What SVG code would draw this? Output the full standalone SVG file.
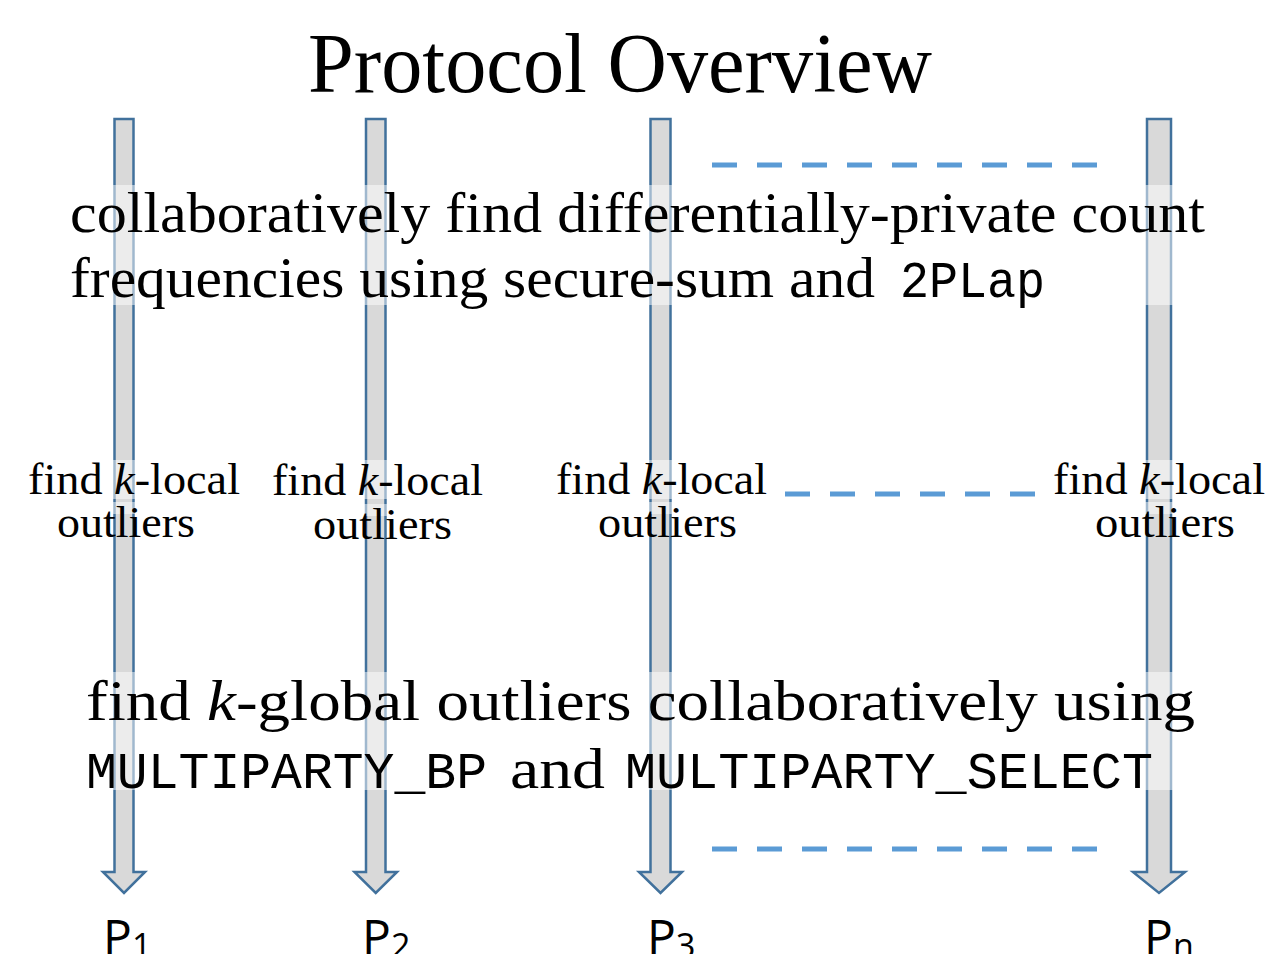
<svg xmlns="http://www.w3.org/2000/svg" width="1273" height="954" viewBox="0 0 1273 954">
<style>
.arrow{fill:#d9d9d9;stroke:#41719c;stroke-width:2.5;stroke-linejoin:miter}
.band{fill:#ffffff;fill-opacity:0.5}
.dash{stroke:#5b9bd5;stroke-width:5;stroke-dasharray:25 20;fill:none}
.serif{font-family:"Liberation Serif","DejaVu Serif",serif;fill:#000}
.mono{font-family:"Liberation Mono","DejaVu Sans Mono",monospace;fill:#000}
.sans{font-family:"Open Sans","Liberation Sans",sans-serif;fill:#000}
.big{font-size:58px}
.mid{font-size:45px}
</style>
<rect width="1273" height="954" fill="#ffffff"/>
<g id="title"><text class="serif" x="308" y="92" font-size="84" textLength="624" lengthAdjust="spacingAndGlyphs">Protocol Overview</text></g>
<g id="party1">
<path class="arrow" d="M114.5 119 H133.5 V872 H145 L124 893 L103 872 H114.5 Z"/>
<text class="sans" x="103" y="954" font-size="48">P<tspan font-size="34" dy="4">1</tspan></text>
</g>
<g id="party2">
<path class="arrow" d="M366 119 H385.5 V872 H397 L375.75 893 L354.5 872 H366 Z"/>
<text class="sans" x="362" y="954" font-size="48">P<tspan font-size="34" dy="4">2</tspan></text>
</g>
<g id="party3">
<path class="arrow" d="M650.5 119 H670.5 V872 H682 L660.5 893 L639 872 H650.5 Z"/>
<text class="sans" x="647" y="954" font-size="48">P<tspan font-size="34" dy="4">3</tspan></text>
</g>
<g id="partyn">
<path class="arrow" d="M1147 119 H1171 V872 H1185 L1159 893 L1133 872 H1147 Z"/>
<text class="sans" x="1144" y="954" font-size="48">P<tspan font-size="34" dy="4">n</tspan></text>
</g>
<g id="connectors">
<line class="dash" x1="712" y1="165" x2="1097" y2="165"/>
<line class="dash" x1="785" y1="494" x2="1035" y2="494"/>
<line class="dash" x1="712" y1="849" x2="1097" y2="849"/>
</g>
<g id="step-count">
<rect class="band" x="70" y="185" width="1135" height="120"/>
<text class="serif big" x="70" y="232" textLength="1135" lengthAdjust="spacingAndGlyphs">collaboratively find differentially-private count</text>
<text class="serif big" x="70" y="297" textLength="805" lengthAdjust="spacingAndGlyphs">frequencies using secure-sum and</text>
<text class="mono" x="900" y="297" font-size="52" textLength="145" lengthAdjust="spacingAndGlyphs">2PLap</text>
</g>
<g id="local1">
<rect class="band" x="28" y="460" width="212" height="39"/>
<rect class="band" x="57" y="502" width="138" height="12"/>
<text class="serif mid" x="28" y="494" textLength="212" lengthAdjust="spacingAndGlyphs">find <tspan font-style="italic">k</tspan>-local</text>
<text class="serif mid" x="57" y="537" textLength="138" lengthAdjust="spacingAndGlyphs">outliers</text>
</g>
<g id="local2">
<rect class="band" x="272" y="460" width="211" height="39"/>
<rect class="band" x="313" y="504" width="139" height="12"/>
<text class="serif mid" x="272" y="495" textLength="211" lengthAdjust="spacingAndGlyphs">find <tspan font-style="italic">k</tspan>-local</text>
<text class="serif mid" x="313" y="539" textLength="139" lengthAdjust="spacingAndGlyphs">outliers</text>
</g>
<g id="local3">
<rect class="band" x="556" y="460" width="211" height="39"/>
<rect class="band" x="598" y="502" width="139" height="12"/>
<text class="serif mid" x="556" y="494" textLength="211" lengthAdjust="spacingAndGlyphs">find <tspan font-style="italic">k</tspan>-local</text>
<text class="serif mid" x="598" y="537" textLength="139" lengthAdjust="spacingAndGlyphs">outliers</text>
</g>
<g id="localn">
<rect class="band" x="1053" y="460" width="212" height="39"/>
<rect class="band" x="1095" y="502" width="140" height="12"/>
<text class="serif mid" x="1053" y="494" textLength="212" lengthAdjust="spacingAndGlyphs">find <tspan font-style="italic">k</tspan>-local</text>
<text class="serif mid" x="1095" y="537" textLength="140" lengthAdjust="spacingAndGlyphs">outliers</text>
</g>
<g id="step-global">
<rect class="band" x="86" y="672" width="1109" height="118"/>
<text class="serif big" x="86" y="720" textLength="1109" lengthAdjust="spacingAndGlyphs">find <tspan font-style="italic">k</tspan>-global outliers collaboratively using</text>
<text class="mono" x="86" y="788" font-size="52" textLength="401" lengthAdjust="spacingAndGlyphs">MULTIPARTY_BP</text>
<text class="serif big" x="510" y="788" textLength="95" lengthAdjust="spacingAndGlyphs">and</text>
<text class="mono" x="625" y="788" font-size="52" textLength="528" lengthAdjust="spacingAndGlyphs">MULTIPARTY_SELECT</text>
</g>
</svg>
